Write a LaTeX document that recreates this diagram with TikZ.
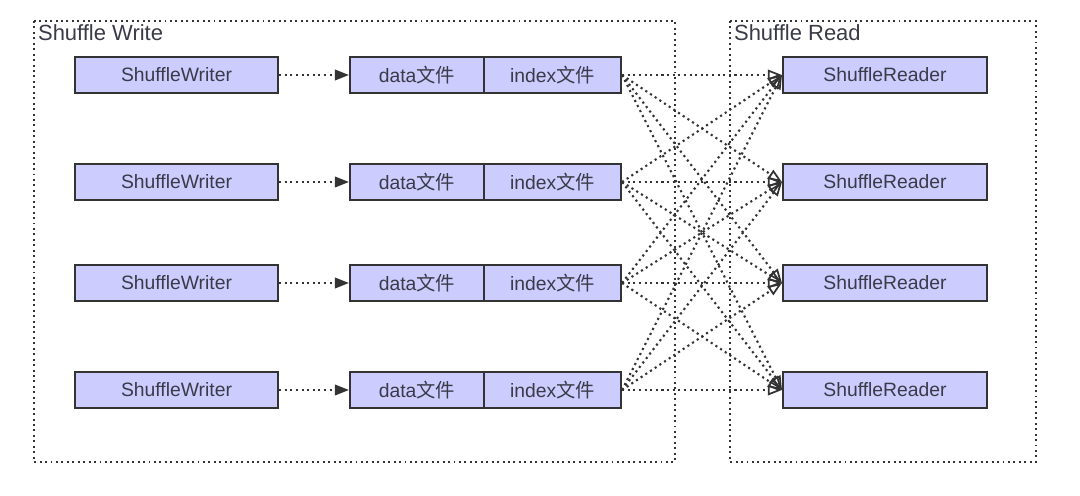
\documentclass[tikz,border=0pt]{standalone}
\usepackage{fontspec}
\setmainfont{Liberation Sans}
\newfontfamily\cjk{Noto Sans CJK SC}
\usetikzlibrary{arrows.meta}
\usepackage{xcolor}
\definecolor{boxfill}{HTML}{CCCCFF}
\definecolor{boxline}{HTML}{333333}
\definecolor{inktext}{HTML}{3A3A48}
\tikzset{
  prbox/.style={draw=boxline,fill=boxfill,line width=1.2pt,minimum height=0.72cm,inner sep=0pt,text=inktext,font=\fontsize{11}{13}\selectfont},
  prframe/.style={draw=boxline,dotted,line width=1.1pt},
  prtitle/.style={anchor=north west,inner sep=1pt,text=inktext,font=\fontsize{12.5}{14}\selectfont},
  prfeed/.style={draw=boxline,dotted,line width=1.2pt,-{Triangle[length=8pt,width=6pt]}},
  prlink/.style={draw=boxline,dotted,line width=1.2pt,-{Triangle[open,length=8pt,width=6pt,line width=1pt]}}
}
\newcommand{\prrow}[2]{%
  \node[prbox,minimum width=4.06cm] (w#1) at (176.5,#2) {ShuffleWriter};
  \node[prbox,minimum width=2.68cm] (d#1) at (417,#2) {data{\cjk 文件}};
  \node[prbox,minimum width=2.74cm] (i#1) at (552.5,#2) {index{\cjk 文件}};
  \node[prbox,minimum width=4.08cm] (r#1) at (885,#2) {ShuffleReader};
  \draw[prfeed] (w#1) -- (d#1);}
\newcommand{\prlink}[2]{\draw[prlink] (i#1.east) -- (r#2.west);}

\begin{document}
\begin{tikzpicture}[x=0.02cm,y=-0.02cm]

    \useasboundingbox (0,0) rectangle (1080,495);

    \draw[prframe] (34,21) rectangle (675,462);
    \draw[prframe] (730,21) rectangle (1036,462);
    \node[prtitle] (wtitle) at (36,22) {Shuffle Write};
    \node[prtitle] (rtitle) at (732,22) {Shuffle Read};

    \prrow{1}{75}
    \prrow{2}{182}
    \prrow{3}{283}
    \prrow{4}{390}

    \prlink{1}{1}
    \prlink{1}{2}
    \prlink{1}{3}
    \prlink{1}{4}

    \prlink{2}{1}
    \prlink{2}{2}
    \prlink{2}{3}
    \prlink{2}{4}

    \prlink{3}{1}
    \prlink{3}{2}
    \prlink{3}{3}
    \prlink{3}{4}

    \prlink{4}{1}
    \prlink{4}{2}
    \prlink{4}{3}
    \prlink{4}{4}
    \end{tikzpicture}
\end{document}
